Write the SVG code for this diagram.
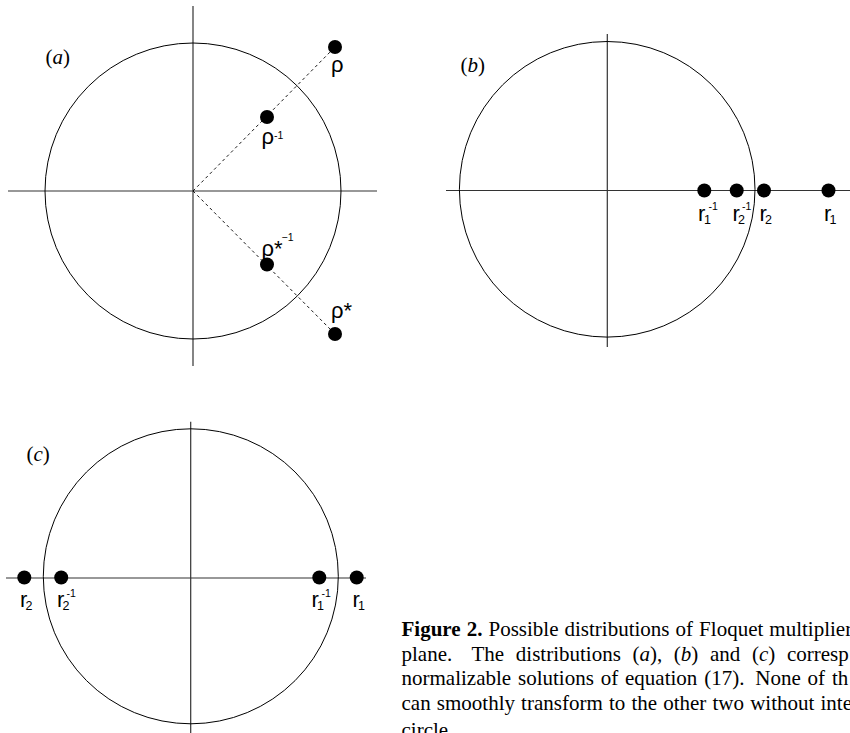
<svg xmlns="http://www.w3.org/2000/svg" width="850" height="733" viewBox="0 0 850 733">
<style>
.axis{stroke:#333;stroke-width:1.2;fill:none}
.circ{stroke:#000;stroke-width:1;fill:none}
.dash{stroke:#000;stroke-width:0.9;stroke-dasharray:3 3;fill:none}
.dot{fill:#000}
.lab{font-family:"Liberation Sans",Arial,sans-serif;font-size:22px;fill:#000}
.sub{font-size:12.5px}
.sup{font-size:10.5px}
.pl{font-family:"Liberation Serif","Times New Roman",serif;font-size:21px;fill:#000}
.cap{font-family:"Liberation Serif","Times New Roman",serif;font-size:21px;fill:#000}
</style>
<rect width="850" height="733" fill="#fff"/>
<!-- panel a -->
<g id="panel-a">
<line class="axis" x1="8" y1="191" x2="377" y2="191"/>
<line class="axis" x1="193" y1="6" x2="193" y2="366"/>
<circle class="circ" cx="193" cy="191" r="148"/>
<text class="pl" x="45.5" y="63.5">(<tspan font-style="italic">a</tspan>)</text>
</g>
<g id="connectors">
<line class="dash" x1="193" y1="191" x2="335" y2="47"/>
<line class="dash" x1="193" y1="191" x2="335" y2="334"/>
</g>
<g id="node-rho">
<circle class="dot" cx="335" cy="47" r="7"/>
<text class="lab" x="331" y="72">ρ</text>
</g>
<g id="node-rho-inv">
<circle class="dot" cx="267" cy="117" r="7"/>
<text class="lab" x="261.5" y="143.5">ρ<tspan class="sup" x="274" y="138.5">-1</tspan></text>
</g>
<g id="node-rhostar-inv">
<circle class="dot" cx="267" cy="264.5" r="7"/>
<text class="lab" x="261.5" y="255.5">ρ*<tspan class="sup" x="281.5" y="240.5">−1</tspan></text>
</g>
<g id="node-rhostar">
<circle class="dot" cx="335" cy="334" r="7"/>
<text class="lab" x="331" y="317.5">ρ*</text>
</g>
<!-- panel b -->
<g id="panel-b">
<line class="axis" x1="446" y1="190.5" x2="850" y2="190.5"/>
<line class="axis" x1="607.3" y1="34" x2="607.3" y2="347"/>
<circle class="circ" cx="607.2" cy="189.3" r="147.8"/>
<text class="pl" x="460.5" y="71.5">(<tspan font-style="italic">b</tspan>)</text>
</g>
<g id="node-b-r1inv">
<circle class="dot" cx="704.3" cy="190.5" r="7"/>
<text class="lab" x="698" y="220.5">r<tspan class="sub" x="704" y="223.5">1</tspan><tspan class="sup" x="708.5" y="210">-1</tspan></text>
</g>
<g id="node-b-r2inv">
<circle class="dot" cx="736.7" cy="190.5" r="7"/>
<text class="lab" x="732.5" y="220.5">r<tspan class="sub" x="738" y="223.5">2</tspan><tspan class="sup" x="742" y="210">-1</tspan></text>
</g>
<g id="node-b-r2">
<circle class="dot" cx="764" cy="190.5" r="7"/>
<text class="lab" x="759.5" y="220.5">r<tspan class="sub" x="765" y="223.5">2</tspan></text>
</g>
<g id="node-b-r1">
<circle class="dot" cx="828.5" cy="190.5" r="7"/>
<text class="lab" x="824" y="220.5">r<tspan class="sub" x="829.5" y="223.5">1</tspan></text>
</g>
<!-- panel c -->
<g id="panel-c">
<line class="axis" x1="6" y1="578" x2="366" y2="578"/>
<line class="axis" x1="190.7" y1="421.7" x2="190.7" y2="733"/>
<circle class="circ" cx="190.8" cy="576.3" r="147.5"/>
<text class="pl" x="26.5" y="460.5">(<tspan font-style="italic">c</tspan>)</text>
</g>
<g id="node-c-r2">
<circle class="dot" cx="24.3" cy="577.5" r="7"/>
<text class="lab" x="20" y="607">r<tspan class="sub" x="25.5" y="610">2</tspan></text>
</g>
<g id="node-c-r2inv">
<circle class="dot" cx="61.2" cy="577.5" r="7"/>
<text class="lab" x="57" y="607">r<tspan class="sub" x="62.5" y="610">2</tspan><tspan class="sup" x="66.5" y="596.5">-1</tspan></text>
</g>
<g id="node-c-r1inv">
<circle class="dot" cx="319.3" cy="577.5" r="7"/>
<text class="lab" x="311.5" y="607">r<tspan class="sub" x="317" y="610">1</tspan><tspan class="sup" x="321.5" y="596.5">-1</tspan></text>
</g>
<g id="node-c-r1">
<circle class="dot" cx="356.7" cy="577.5" r="7"/>
<text class="lab" x="352.5" y="607">r<tspan class="sub" x="358" y="610">1</tspan></text>
</g>
<!-- caption -->
<g id="caption" class="cap">
<text x="401.5" y="636" word-spacing="0.8"><tspan font-weight="bold">Figure 2.</tspan> Possible distributions of Floquet multiplier</text>
<text x="401.5" y="660.5" word-spacing="6.4">plane.<tspan dx="8"> The distributions (<tspan font-style="italic">a</tspan>), (<tspan font-style="italic">b</tspan>) and (<tspan font-style="italic">c</tspan>) corresp</tspan></text>
<text x="401.5" y="685" word-spacing="1.6">normalizable solutions of equation (17).<tspan dx="4"> None of th</tspan></text>
<text x="401.5" y="709.5" word-spacing="0.9">can smoothly transform to the other two without inte</text>
<text x="401.5" y="736.5">circle.</text>
</g>
</svg>
